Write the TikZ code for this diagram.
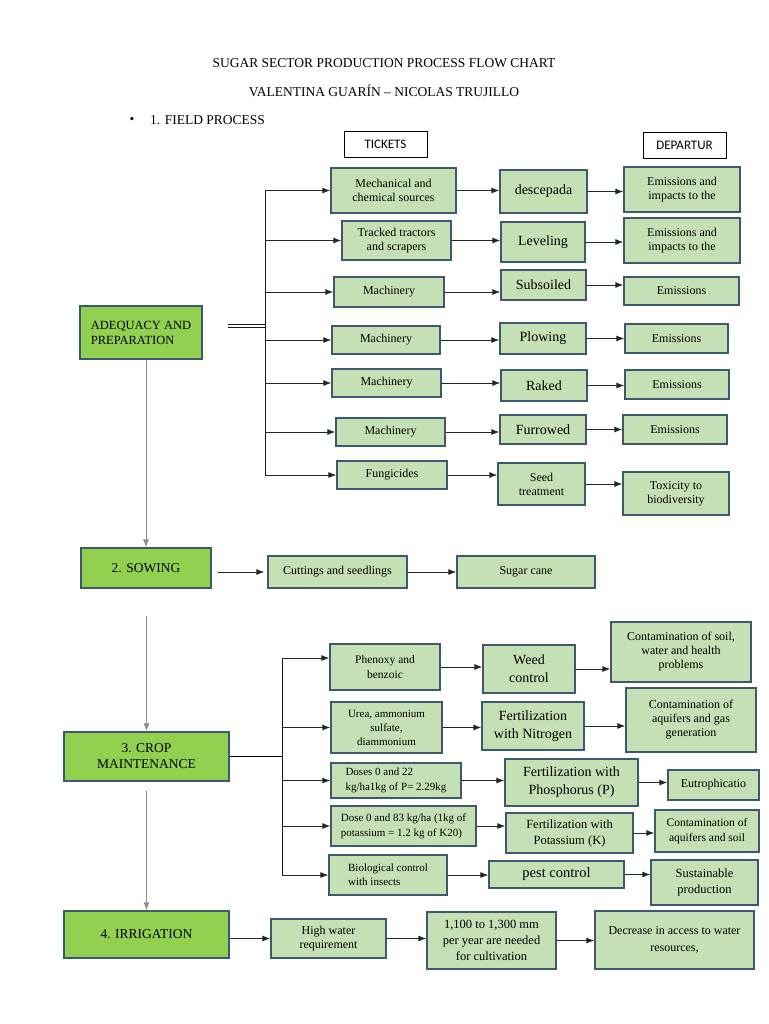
\documentclass[tikz,border=0pt]{standalone}
\usepackage{fontspec}
\setmainfont{Liberation Serif}
\newfontfamily\hdfont{Carlito}
\usetikzlibrary{arrows.meta}
\definecolor{lgreen}{RGB}{197,224,180}
\definecolor{mgreen}{RGB}{146,208,80}
\definecolor{bord}{RGB}{62,88,112}
\definecolor{vgray}{RGB}{140,140,140}
\newcommand{\fs}[2]{\fontsize{#1}{#2}\selectfont}
\newcommand{\mkbox}[7]{%
  \pgfmathsetmacro\bcx{(#2+#4)/2}%
  \pgfmathsetmacro\bcy{(#3+#5)/2}%
  \pgfmathsetmacro\bww{#4-#2}%
  \pgfmathsetmacro\bhh{#5-#3}%
  \node[#6, minimum width=\bww pt, minimum height=\bhh pt] (#1) at (\bcx,\bcy) {#7};}
\tikzset{
  lbox/.style={draw=bord, line width=1.3pt, fill=lgreen, inner sep=1pt, align=center, font=\fs{12}{14}},
  gbox/.style={draw=bord, line width=1.3pt, fill=mgreen, inner sep=1pt, align=center, font=\fs{13.5}{16}},
  hbox/.style={draw=black, line width=0.8pt, fill=white, inner sep=1pt, font=\hdfont\fs{13}{15}},
  arr/.style={-{Latex[length=8pt,width=6pt]}, line width=0.9pt, draw=black!85},
  varr/.style={-{Latex[length=8pt,width=6pt]}, line width=1pt, draw=vgray},
  trunk/.style={line width=1pt, draw=black!90}
}
\begin{document}
\begin{tikzpicture}[x=1pt,y=-1pt]
\useasboundingbox[fill=white] (0,0) rectangle (768,1024);
% titles
\node (t1) at (384,63) {\fs{13.5}{16}SUGAR SECTOR PRODUCTION PROCESS FLOW CHART};
\node (t2) at (384,91) {\fs{13.5}{16}VALENTINA GUARÍN – NICOLAS TRUJILLO};
\node (bul) at (132,120) {\fs{13.5}{16}\textbullet};
\node[anchor=west, inner sep=0pt] (fp) at (150,120) {\fs{13.5}{16}1. FIELD PROCESS};
% headers
\mkbox{tk}{344}{131}{427}{157}{hbox}{TICKETS}
\mkbox{dp}{643}{132}{726}{158}{hbox}{DEPARTUR}
% field process
\mkbox{ad}{80}{306}{202}{359}{gbox,align=left,font=\fs{12.5}{15}}{ADEQUACY AND\\PREPARATION}
\mkbox{m1}{331}{168}{456}{213}{lbox}{Mechanical and\\chemical sources}
\mkbox{p1}{500}{170}{587}{213}{lbox,font=\fs{14}{16}}{descepada}
\mkbox{o1}{624}{167}{740}{212}{lbox}{Emissions and\\impacts to the}
\mkbox{m2}{342}{221}{451}{260}{lbox}{Tracked tractors\\and scrapers}
\mkbox{p2}{501}{222}{585}{262}{lbox,font=\fs{14}{16}}{Leveling}
\mkbox{o2}{624}{218}{740}{263}{lbox}{Emissions and\\impacts to the}
\mkbox{m3}{334}{277}{444}{307}{lbox}{Machinery}
\mkbox{p3}{501}{270}{586}{300}{lbox,font=\fs{14}{16}}{Subsoiled}
\mkbox{o3}{624}{277}{739}{305}{lbox}{Emissions}
\mkbox{m4}{332}{326}{440}{354}{lbox}{Machinery}
\mkbox{p4}{500}{323}{586}{354}{lbox,font=\fs{14}{16}}{Plowing}
\mkbox{o4}{625}{324}{728}{353}{lbox}{Emissions}
\mkbox{m5}{332}{369}{441}{397}{lbox}{Machinery}
\mkbox{p5}{501}{370}{587}{401}{lbox,font=\fs{14}{16}}{Raked}
\mkbox{o5}{625}{370}{729}{399}{lbox}{Emissions}
\mkbox{m6}{336}{418}{445}{446}{lbox}{Machinery}
\mkbox{p6}{500}{415}{586}{444}{lbox,font=\fs{14}{16}}{Furrowed}
\mkbox{o6}{623}{415}{727}{444}{lbox}{Emissions}
\mkbox{m7}{337}{461}{447}{489}{lbox}{Fungicides}
\mkbox{p7}{498}{463}{585}{505}{lbox}{Seed\\treatment}
\mkbox{o7}{623}{472}{729}{515}{lbox}{Toxicity to\\biodiversity}
\coordinate (ft) at (265,190.5);
\coordinate (fb) at (265,475);
\coordinate (dj1) at (228,324);
\coordinate (dj2) at (228,327);
\draw[trunk] (ft) -- (fb);
\draw[trunk] (dj1) -- (dj1 -| ft);
\draw[trunk] (dj2) -- (dj2 -| ft);
\foreach \i in {1,...,7}{
  \draw[arr] (m\i.west -| ft) -- (m\i.west);
  \draw[arr] (m\i.east) -- (m\i.east -| p\i.west);
  \draw[arr] (p\i.east) -- (p\i.east -| o\i.west);
}
% sowing
\mkbox{sow}{81}{548}{211}{588}{gbox}{2. SOWING}
\mkbox{cut}{268}{556}{407}{588}{lbox}{Cuttings and seedlings}
\mkbox{sc}{457}{556}{595}{588}{lbox}{Sugar cane}
\draw[varr] (sow.north |- ad.south) -- (sow.north);
\draw[arr, shorten <=6pt, shorten >=3pt] (sow.east |- cut.west) -- (cut.west);
\draw[arr] (cut.east) -- (sc.west);
% crop maintenance
\mkbox{crop}{64}{732}{229}{781}{gbox}{3. CROP\\MAINTENANCE}
\draw[varr, shorten <=27pt] (crop.north |- sow.south) -- (crop.north);
\mkbox{c1}{330}{644}{440}{690}{lbox,font=\fs{11.5}{15}}{Phenoxy and\\benzoic}
\mkbox{q1}{483}{645}{575}{693}{lbox,font=\fs{14}{18}}{Weed\\control}
\mkbox{r1}{611}{622}{751}{682}{lbox}{Contamination of soil,\\water and health\\problems}
\mkbox{c2}{331}{702}{442}{753}{lbox,font=\fs{11}{14}}{Urea, ammonium\\sulfate,\\diammonium}
\mkbox{q2}{482}{702}{584}{750}{lbox,font=\fs{14}{18}}{Fertilization\\with Nitrogen}
\mkbox{r2}{626}{688}{756}{752}{lbox}{Contamination of\\aquifers and gas\\generation}
\mkbox{c3}{331}{763}{461}{798}{lbox,align=left,font=\fs{11}{15}}{Doses 0 and 22\\kg/ha1kg of P= 2.29kg}
\mkbox{q3}{505}{759}{638}{806}{lbox,font=\fs{14}{18}}{Fertilization with\\Phosphorus (P)}
\mkbox{r3}{668}{770}{759}{800}{lbox}{Eutrophicatio}
\mkbox{c4}{331}{806}{476}{846}{lbox,align=left,font=\fs{11}{15}}{Dose 0 and 83 kg/ha (1kg of\\potassium = 1.2 kg of K20)}
\mkbox{q4}{506}{813}{633}{853}{lbox,font=\fs{12.5}{16}}{Fertilization with\\Potassium (K)}
\mkbox{r4}{655}{810}{759}{852}{lbox,font=\fs{11.5}{15}}{Contamination of\\aquifers and soil}
\mkbox{c5}{329}{855}{447}{895}{lbox,align=left,font=\fs{11}{14}}{Biological control\\with insects}
\mkbox{q5}{489}{861}{624}{888}{lbox,font=\fs{14.5}{17}}{pest control}
\mkbox{r5}{651}{860}{758}{905}{lbox,font=\fs{12.5}{16}}{Sustainable\\production}
\coordinate (ct) at (282,658);
\coordinate (cb) at (282,875);
\draw[line width=1.6pt] (crop.east) -- (crop.east -| ct);
\draw[trunk] (ct) -- (cb);
\draw[arr] (ct) -- (ct -| c1.west);
\foreach \i in {2,...,5}{
  \draw[arr] (c\i.west -| ct) -- (c\i.west);
}
\foreach \i in {1,...,5}{
  \draw[arr] (c\i.east) -- (c\i.east -| q\i.west);
  \draw[arr] (q\i.east) -- (q\i.east -| r\i.west);
}
% irrigation
\mkbox{irr}{64}{911}{229}{958}{gbox}{4. IRRIGATION}
\mkbox{hw}{271}{919}{386}{958}{lbox}{High water\\requirement}
\mkbox{mm}{427}{912}{556}{969}{lbox,font=\fs{12.5}{16}}{1,100 to 1,300 mm\\per year are needed\\for cultivation}
\mkbox{dec}{595}{911}{754}{969}{lbox,font=\fs{12}{17}}{Decrease in access to water\\resources,}
\draw[varr, shorten <=9pt] (irr.north |- crop.south) -- (irr.north);
\draw[arr] (irr.east |- hw.west) -- (hw.west);
\draw[arr] (hw.east) -- (hw.east -| mm.west);
\draw[arr] (mm.east) -- (mm.east -| dec.west);
\end{tikzpicture}
\end{document}
